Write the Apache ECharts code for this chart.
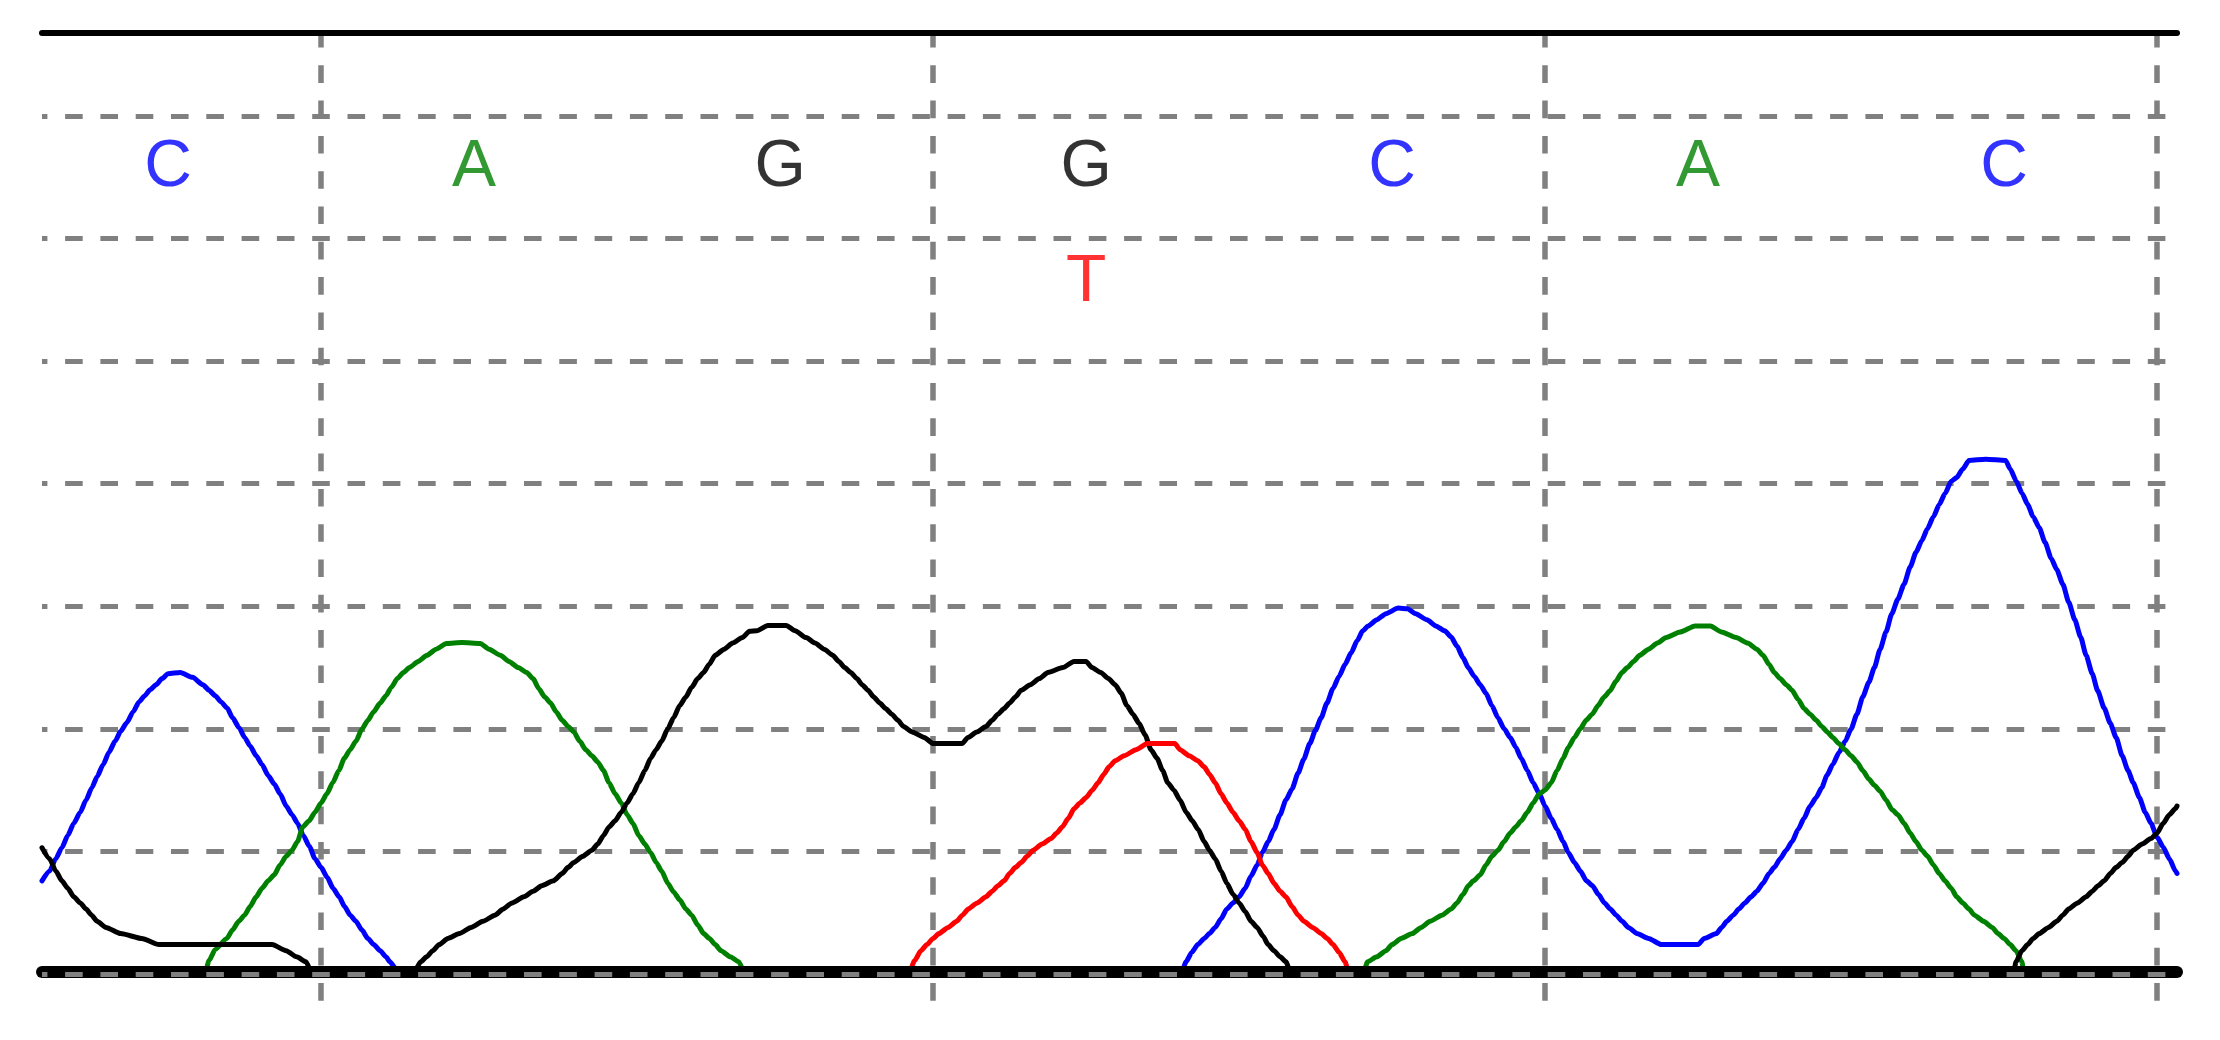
<!DOCTYPE html>
<html>
<head>
<meta charset="utf-8">
<script src="https://cdn.jsdelivr.net/npm/echarts@6/dist/echarts.min.js"></script>
<style>
html,body{margin:0;padding:0;background:#ffffff;}
#chart{width:2220px;height:1040px;}
</style>
</head>
<body>
<div id="chart"></div>
<script>
// ---- data (x in scan units, 10 per base; y in signal units) ----
const baseCalls = ['C', 'A', 'G', 'G', 'C', 'A', 'C'];
const basePositions = [-5, 5, 15, 25, 35, 45, 55];
const secondaryCalls = ['T'];
const secondaryPositions = [25];

const traceC = [
  [-9.12,76],[-8.87,84],[-8.67,94],[-8.47,103],[-8.28,113],[-8.08,123],[-7.87,132],[-7.68,142],[-7.49,152],[-7.32,161],
  [-7.12,171],[-6.93,181],[-6.73,190],[-6.55,198],[-6.35,205],[-6.14,214],[-5.95,222],[-5.76,227],[-5.59,232],[-5.39,236],
  [-5.2,241],[-5.0,245],[-4.6,246],[-4.2,242],[-3.86,236],[-3.66,231.5],[-3.46,227],[-3.27,222],[-3.07,217],[-2.89,209],
  [-2.68,201],[-2.5,193],[-2.32,186],[-2.12,178],[-1.93,171],[-1.73,162],[-1.53,155],[-1.34,147],[-1.14,137],[-0.95,130],
  [-0.77,123],[-0.58,113],[-0.38,104],[-0.2,94],[0,87],[0.2,79],[0.39,70],[0.59,63],[0.77,55],[0.95,48],[1.14,43],
  [1.33,36],[1.53,29],[1.72,24],[1.93,19],[2.12,14],[2.25,10],[2.45,4],[2.6,0],[28.1,0],[28.27,10],[28.45,17.5],
  [28.65,24],[28.86,29],[29.03,33],[29.22,38],[29.41,45],[29.6,53],[29.8,58],[30.0,63],[30.2,70],[30.39,80],[30.59,89],
  [30.76,99],[30.95,108],[31.14,118],[31.34,130],[31.53,142],[31.73,151],[31.93,164],[32.11,175],[32.31,188],[32.5,199],
  [32.68,209],[32.87,221],[33.07,233],[33.27,243],[33.46,252.5],[33.66,262],[33.86,272],[34.04,280],[34.22,284],[34.5,289],
  [34.8,294],[35.2,298.5],[35.5,298],[35.77,294],[36.14,289],[36.43,284],[36.72,280],[36.93,275],[37.12,267.5],[37.32,258],
  [37.49,250],[37.68,243],[37.88,236],[38.07,229],[38.26,219],[38.46,209],[38.66,200],[38.86,193],[39.04,185],[39.22,176],
  [39.42,166],[39.61,156],[39.81,147],[40.0,137],[40.2,127],[40.39,118],[40.59,108],[40.76,99],[40.96,91],[41.15,84],
  [41.35,76],[41.55,72],[41.74,65],[41.94,58],[42.13,53],[42.32,48],[42.52,43],[42.72,38],[43.0,33],[43.38,29],[43.8,24],
  [44.4,24],[45.0,24],[45.2,29],[45.6,33],[45.77,38],[45.94,43],[46.15,48],[46.33,53],[46.53,58],[46.73,63],[46.92,67.5],
  [47.12,74],[47.32,82],[47.49,87],[47.68,94],[47.88,101],[48.07,108],[48.27,118],[48.46,127],[48.66,137],[48.86,144],
  [49.04,152],[49.21,162],[49.4,171],[49.61,181],[49.81,190],[50.0,200],[50.19,212],[50.38,226],[50.58,238],[50.76,250],
  [50.95,265],[51.14,279],[51.33,294],[51.53,306],[51.73,318],[51.93,332],[52.12,344],[52.31,353.5],[52.49,363],[52.69,373],
  [52.88,383],[53.07,392],[53.27,402],[53.45,405],[53.65,412],[53.85,419],[54.4,420],[55.05,419],[55.2,412],[55.4,402],
  [55.59,392],[55.77,383],[55.95,373],[56.15,364],[56.34,352],[56.54,339],[56.72,330],[56.92,318],[57.11,303.5],[57.31,289],
  [57.5,275],[57.68,260],[57.88,245],[58.06,231],[58.27,217],[58.47,204.5],[58.66,193],[58.86,178],[59.05,166],[59.22,156],
  [59.42,144],[59.61,132],[59.8,123],[60.0,111.5],[60.2,103.5],[60.4,94],[60.6,84],[60.65,82]
];

const traceA = [
  [-9.12,0],[-3.8,0],[-3.66,11],[-3.46,20],[-3.08,29],[-2.89,36],[-2.69,43],[-2.5,48],[-2.32,55],[-2.12,63],[-1.93,70],
  [-1.73,76],[-1.53,81],[-1.34,89],[-1.14,96],[-0.95,101],[-0.77,108],[-0.6,120],[-0.39,125],[-0.2,132],[0,139.5],
  [0.19,147],[0.38,156],[0.58,166],[0.76,176],[0.95,183],[1.14,190],[1.34,200],[1.53,207],[1.72,214],[1.93,221],[2.12,227],
  [2.3,234],[2.49,241],[2.69,246],[2.89,250],[3.17,255],[3.46,260],[3.76,265],[4.1,269.7],[4.6,270.5],[5.2,269.7],
  [5.49,265],[5.86,260],[6.14,255],[6.44,250],[6.72,246],[6.93,241],[7.11,233],[7.31,226],[7.5,221],[7.68,214],[7.88,207],
  [8.07,202],[8.26,197.5],[8.45,190],[8.65,183],[8.85,178],[9.04,173],[9.23,166],[9.41,156],[9.61,147],[9.81,139.5],
  [10.0,130],[10.19,123],[10.38,113],[10.58,106],[10.77,99],[10.95,91],[11.13,84],[11.33,74],[11.52,67],[11.72,60.5],
  [11.92,53],[12.11,48],[12.31,40],[12.5,33],[12.69,29],[12.88,24],[13.07,19],[13.37,14],[13.65,10],[13.85,0],[34.05,0],
  [34.2,10],[34.5,14],[34.8,19],[35.0,24],[35.29,29],[35.66,33],[35.95,38],[36.24,43],[36.63,48],[36.93,53],[37.12,58],
  [37.32,65],[37.49,72],[37.66,76],[37.88,81],[38.07,89],[38.26,96],[38.46,101],[38.66,108],[38.86,115],[39.04,120],
  [39.22,125],[39.42,132],[39.61,139.5],[39.81,147],[40.0,150],[40.2,156],[40.39,166],[40.59,176],[40.76,185],[40.96,193],
  [41.15,200],[41.34,207],[41.54,212],[41.73,219],[41.93,226],[42.12,231],[42.32,239],[42.51,246],[42.69,250],[42.89,255],
  [43.09,260],[43.38,265],[43.67,270],[43.96,274.5],[44.41,279],[44.9,284],[45.4,284],[45.77,279],[46.24,274.5],[46.62,270],
  [46.92,265],[47.12,260],[47.32,252.5],[47.49,246],[47.68,241],[47.88,236],[48.07,231.5],[48.27,224],[48.46,216.6],
  [48.66,212],[48.86,207],[49.04,202],[49.22,197.5],[49.4,193],[49.6,188],[49.8,183],[50.0,178],[50.19,173],[50.38,166],
  [50.58,159],[50.76,154],[50.95,149],[51.14,142],[51.34,134],[51.53,130],[51.73,123],[51.93,115],[52.12,108],[52.31,101],
  [52.5,96],[52.69,89],[52.88,82],[53.07,76],[53.27,70],[53.45,63],[53.65,58],[53.85,53],[54.03,48],[54.33,43],[54.61,38],
  [54.8,33],[55.0,29],[55.2,24],[55.39,19],[55.58,10],[55.65,0],[60.65,0]
];

const traceG = [
  [-9.12,103],[-8.87,94],[-8.67,84],[-8.47,76],[-8.28,70],[-8.08,63],[-7.87,58],[-7.68,53],[-7.5,48],[-7.32,43],[-7.03,38],
  [-6.55,33],[-5.86,29],[-5.3,24],[-3.5,24],[-1.6,24],[-1.14,19],[-0.8,14],[-0.49,10],[-0.3,0],[3.0,0],[3.26,10],[3.45,14],
  [3.65,19],[3.86,24],[4.14,29],[4.52,33],[4.9,38],[5.29,43],[5.68,48],[5.95,53],[6.24,58],[6.63,63],[6.93,67.5],[7.21,72],
  [7.59,76],[7.88,82],[8.07,87],[8.26,91],[8.55,96],[8.85,101],[9.04,106],[9.23,113],[9.41,120],[9.61,125],[9.81,132],
  [10.0,139.5],[10.19,147],[10.38,156],[10.58,166],[10.77,176],[10.95,183],[11.13,190],[11.33,200],[11.52,209],[11.72,219],
  [11.92,226],[12.11,234],[12.31,241],[12.5,246],[12.68,252.5],[12.88,260],[13.17,265],[13.45,270],[13.77,274.5],[14.0,279.6],
  [14.24,280],[14.6,284.4],[15.2,284.4],[15.49,280],[15.85,274.5],[16.14,270],[16.44,265],[16.72,260],[16.92,255],[17.11,250],
  [17.31,246],[17.51,241],[17.68,236],[17.87,231.5],[18.06,226],[18.26,221],[18.45,216.6],[18.65,212],[18.85,207],[19.03,202],
  [19.31,197.5],[19.71,193],[20.0,188],[20.5,188],[20.95,188],[21.14,193],[21.43,197.5],[21.73,202],[21.93,207],[22.12,212],
  [22.32,216.6],[22.5,221],[22.69,226],[22.88,231.5],[23.18,236],[23.47,241],[23.75,246],[24.24,250],[24.6,255],[25.0,255],
  [25.19,250],[25.48,246],[25.73,241],[25.95,236],[26.15,229],[26.33,219],[26.53,212],[26.73,204.5],[26.93,195],[27.12,183],
  [27.32,176],[27.5,166],[27.67,156],[27.87,150],[28.07,142],[28.27,132],[28.47,125],[28.66,118],[28.86,108],[29.03,101],
  [29.22,94],[29.41,84],[29.6,74],[29.8,65],[30.0,58],[30.2,51],[30.39,43],[30.59,38],[30.78,31],[30.95,24],[31.14,19],
  [31.34,14],[31.53,10],[31.7,0],[55.3,0],[55.39,10],[55.58,19],[55.77,24],[55.95,29],[56.15,33],[56.45,38],[56.72,43],
  [56.92,48],[57.11,53],[57.4,58],[57.68,63],[57.88,67.5],[58.07,72],[58.27,76],[58.47,82],[58.66,87],[58.86,91],[59.05,96],
  [59.22,101],[59.51,106],[59.8,110.5],[60.0,115],[60.2,123],[60.4,130],[60.6,135],[60.65,137]
];

const traceT = [
  [-9.12,0],[19.2,0],[19.4,11],[19.6,19],[19.8,24],[20.0,29],[20.19,33],[20.49,38],[20.77,43],[20.96,48],[21.15,53],[21.44,58],
  [21.73,63],[21.93,67.5],[22.12,72],[22.32,76],[22.5,82],[22.69,87],[22.88,91],[23.07,96],[23.27,101],[23.56,106],
  [23.86,110.5],[24.04,115],[24.22,120],[24.42,127],[24.61,135],[24.8,139.5],[25.0,144],[25.2,150],[25.39,156],[25.58,163],
  [25.75,169],[25.95,174],[26.24,178],[26.63,183],[27.0,188],[27.5,188],[27.9,188],[28.07,183],[28.37,178],[28.65,174],
  [28.86,169],[29.03,163],[29.22,156],[29.41,147],[29.6,139.5],[29.8,132],[30.0,125],[30.2,118],[30.39,108],[30.59,99],
  [30.76,89],[30.95,82],[31.14,74],[31.34,67.5],[31.53,63],[31.73,55],[31.93,48],[32.12,43],[32.4,38],[32.68,33],[32.88,29],
  [33.07,24],[33.27,17.5],[33.46,10],[33.6,0],[60.65,0]
];

// ---- styles ----
const baseColors = { C: '#0000ff', A: '#008000', G: '#000000', T: '#ff0000' };
const gridGrey = '#808080';
const dash = [17.6, 17.7];

const chart = echarts.init(document.getElementById('chart'), null, { renderer: 'canvas' });

function letterItems(calls, positions, level) {
  return calls.map((b, i) => ({
    name: b,
    value: [positions[i], level],
    label: { color: baseColors[b] }
  }));
}

function traceSeries(name, data) {
  return {
    name: name,
    type: 'line',
    xAxisIndex: 0,
    yAxisIndex: 0,
    data: data,
    showSymbol: false,
    symbol: 'none',
    smooth: 0.2,
    smoothMonotone: 'x',
    z: 2,
    lineStyle: { color: baseColors[name], width: 5, join: 'round', cap: 'round' },
    itemStyle: { color: baseColors[name] },
    silent: true
  };
}

const letterStyle = {
  show: true,
  position: 'inside',
  formatter: p => p.name,
  fontSize: 66,
  fontFamily: 'Liberation Sans, Arial, sans-serif',
  fontWeight: 'normal'
};

const option = {
  animation: false,
  backgroundColor: '#ffffff',
  grid: [
    { left: 42, right: 43, top: 33, bottom: 66, containLabel: false },
    { left: 321, right: 63, top: 30, bottom: 38, containLabel: false }
  ],
  xAxis: [
    {
      gridIndex: 0, type: 'value', min: -9.12, max: 60.65, position: 'bottom', z: 3, offset: -2,
      axisLine: { show: true, onZero: false, lineStyle: { color: '#000000', width: 12 } },
      axisTick: { show: false }, axisLabel: { show: false }, splitLine: { show: false }
    },
    {
      gridIndex: 0, type: 'value', min: -9.12, max: 60.65, position: 'top', z: 3,
      axisLine: { show: true, onZero: false, lineStyle: { color: '#000000', width: 6 } },
      axisTick: { show: false }, axisLabel: { show: false }, splitLine: { show: false }
    },
    {
      gridIndex: 1, type: 'value', min: 0, max: 60, interval: 20,
      axisLine: { show: false }, axisTick: { show: false }, axisLabel: { show: false },
      splitLine: { show: true, lineStyle: { color: gridGrey, width: 5.5, type: dash } }
    }
  ],
  yAxis: [
    {
      gridIndex: 0, type: 'value', min: 0, max: 767.7, interval: 100,
      axisLine: { show: false }, axisTick: { show: false }, axisLabel: { show: false },
      splitLine: { show: true, showMaxLine: false, lineStyle: { color: gridGrey, width: 5, type: dash, dashOffset: 12.2 } }
    },
    { gridIndex: 1, type: 'value', min: 0, max: 1, show: false }
  ],
  series: [
    traceSeries('C', traceC),
    traceSeries('A', traceA),
    traceSeries('G', traceG),
    traceSeries('T', traceT),
    {
      name: 'baseline', type: 'line', xAxisIndex: 0, yAxisIndex: 0, data: [], silent: true,
      markLine: {
        silent: true, symbol: 'none', z: 5, label: { show: false },
        lineStyle: { color: gridGrey, width: 5, type: dash, dashOffset: 12.2 },
        emphasis: { disabled: true },
        data: [{ yAxis: 0 }]
      }
    },
    {
      name: 'calls', type: 'scatter', xAxisIndex: 0, yAxisIndex: 0, z: 6, silent: true,
      symbolSize: 1, itemStyle: { color: 'rgba(0,0,0,0)' },
      label: letterStyle,
      data: letterItems(baseCalls, basePositions, 658)
    },
    {
      name: 'secondary', type: 'scatter', xAxisIndex: 0, yAxisIndex: 0, z: 6, silent: true,
      symbolSize: 1, itemStyle: { color: 'rgba(0,0,0,0)' },
      label: letterStyle,
      data: letterItems(secondaryCalls, secondaryPositions, 564)
    }
  ]
};

chart.setOption(option);
</script>
</body>
</html>
